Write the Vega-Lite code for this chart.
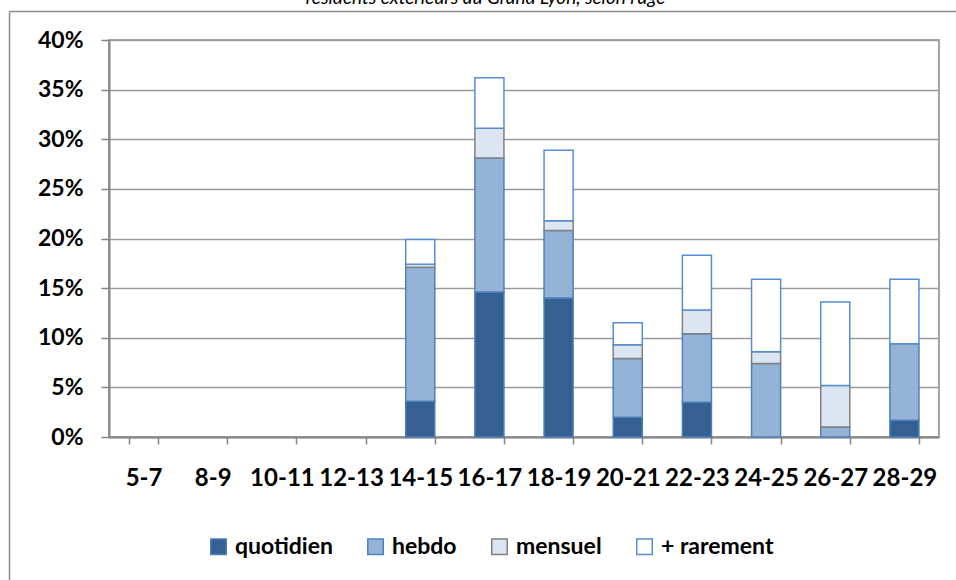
{
  "$schema": "https://vega.github.io/schema/vega-lite/v6.json",
  "width": 830,
  "height": 397,
  "autosize": "none",
  "padding": {"left": 109, "top": 40, "right": 17, "bottom": 143},
  "background": "white",
  "data": {
    "values": [
      {"age": "14-15", "freq": "quotidien", "part": 0.036},
      {"age": "14-15", "freq": "hebdo", "part": 0.135},
      {"age": "14-15", "freq": "mensuel", "part": 0.003},
      {"age": "14-15", "freq": "+ rarement", "part": 0.025},
      {"age": "16-17", "freq": "quotidien", "part": 0.146},
      {"age": "16-17", "freq": "hebdo", "part": 0.135},
      {"age": "16-17", "freq": "mensuel", "part": 0.030},
      {"age": "16-17", "freq": "+ rarement", "part": 0.051},
      {"age": "18-19", "freq": "quotidien", "part": 0.140},
      {"age": "18-19", "freq": "hebdo", "part": 0.068},
      {"age": "18-19", "freq": "mensuel", "part": 0.010},
      {"age": "18-19", "freq": "+ rarement", "part": 0.071},
      {"age": "20-21", "freq": "quotidien", "part": 0.020},
      {"age": "20-21", "freq": "hebdo", "part": 0.059},
      {"age": "20-21", "freq": "mensuel", "part": 0.014},
      {"age": "20-21", "freq": "+ rarement", "part": 0.022},
      {"age": "22-23", "freq": "quotidien", "part": 0.035},
      {"age": "22-23", "freq": "hebdo", "part": 0.069},
      {"age": "22-23", "freq": "mensuel", "part": 0.024},
      {"age": "22-23", "freq": "+ rarement", "part": 0.055},
      {"age": "24-25", "freq": "hebdo", "part": 0.074},
      {"age": "24-25", "freq": "mensuel", "part": 0.012},
      {"age": "24-25", "freq": "+ rarement", "part": 0.073},
      {"age": "26-27", "freq": "hebdo", "part": 0.010},
      {"age": "26-27", "freq": "mensuel", "part": 0.042},
      {"age": "26-27", "freq": "+ rarement", "part": 0.084},
      {"age": "28-29", "freq": "quotidien", "part": 0.017},
      {"age": "28-29", "freq": "hebdo", "part": 0.077},
      {"age": "28-29", "freq": "+ rarement", "part": 0.065}
    ]
  },
  "transform": [
    {"calculate": "indexof(['quotidien', 'hebdo', 'mensuel', '+ rarement'], datum.freq)", "as": "rang"}
  ],
  "layer": [
    {
      "mark": {"type": "bar", "strokeWidth": 1.5},
      "encoding": {
        "x": {
          "field": "age",
          "type": "nominal",
          "scale": {
            "domain": ["5-7", "8-9", "10-11", "12-13", "14-15", "16-17", "18-19", "20-21", "22-23", "24-25", "26-27", "28-29"],
            "paddingInner": 0.58,
            "paddingOuter": 0.29
          },
          "axis": {
            "title": null,
            "labelAngle": 0,
            "labelFont": "Lato",
            "labelFontSize": 24,
            "labelFontWeight": "bold",
            "labelColor": "#000000",
            "tickBand": "extent",
            "tickSize": 7,
            "tickColor": "#868686",
            "tickWidth": 1.5,
            "domainColor": "#868686",
            "domainWidth": 2,
            "labelPadding": 22,
            "grid": false
          }
        },
        "y": {
          "field": "part",
          "type": "quantitative",
          "stack": "zero",
          "scale": {"domain": [0, 0.4], "nice": false},
          "axis": {
            "title": null,
            "format": ".0%",
            "values": [0, 0.05, 0.1, 0.15, 0.2, 0.25, 0.3, 0.35, 0.4],
            "labelFont": "Lato",
            "labelFontSize": 23,
            "labelFontWeight": "bold",
            "labelColor": "#000000",
            "tickSize": 8,
            "tickColor": "#868686",
            "tickWidth": 1.5,
            "domainColor": "#868686",
            "domainWidth": 2,
            "labelPadding": 18,
            "grid": true,
            "gridColor": "#9a9a9a",
            "gridWidth": 1.5
          }
        },
        "order": {"field": "rang", "type": "quantitative", "sort": "ascending"},
        "color": {
          "field": "freq",
          "type": "nominal",
          "scale": {
            "domain": ["quotidien", "hebdo", "mensuel", "+ rarement"],
            "range": ["#376092", "#95B3D7", "#DCE6F2", "#FFFFFF"]
          },
          "legend": {
            "orient": "none",
            "legendX": 98,
            "legendY": 495,
            "direction": "horizontal",
            "title": null,
            "padding": 0,
            "symbolType": "square",
            "symbolSize": 240,
            "symbolStrokeWidth": 1.5,
            "labelFont": "Lato",
            "labelFontSize": 23,
            "labelFontWeight": "bold",
            "labelColor": "#000000",
            "columnPadding": 31,
            "labelOffset": 5,
            "labelLimit": 300
          }
        },
        "stroke": {
          "field": "freq",
          "type": "nominal",
          "scale": {
            "domain": ["quotidien", "hebdo", "mensuel", "+ rarement"],
            "range": ["#4A7EBB", "#4F81BD", "#808080", "#558ED5"]
          },
          "legend": null
        }
      }
    },
    {
      "mark": {"type": "rule", "opacity": 0},
      "encoding": {
        "y": {
          "field": "part",
          "type": "quantitative",
          "scale": {"domain": [0, 1], "range": [560, -29], "nice": false, "zero": false},
          "axis": {
            "orient": "left",
            "offset": 100,
            "title": "résidents extérieurs au Grand Lyon, selon l'âge",
            "titleFont": "Lato",
            "titleFontSize": 19,
            "titleFontStyle": "italic",
            "titleFontWeight": "normal",
            "titleColor": "#000000",
            "titleAngle": 0,
            "titleAlign": "center",
            "titleBaseline": "alphabetic",
            "titleX": 476,
            "titleY": -37,
            "labels": false,
            "ticks": false,
            "grid": false,
            "domain": true,
            "domainColor": "#8c8c8c",
            "domainWidth": 1.5,
            "zindex": 1
          }
        }
      }
    },
    {
      "mark": {"type": "rule", "opacity": 0},
      "encoding": {
        "x": {
          "field": "part",
          "type": "quantitative",
          "scale": {"domain": [0, 1], "range": [-100, 870], "nice": false, "zero": false},
          "axis": {
            "orient": "top",
            "offset": 29,
            "title": null,
            "labels": false,
            "ticks": false,
            "grid": false,
            "domain": true,
            "domainColor": "#8c8c8c",
            "domainWidth": 1.5,
            "zindex": 1
          }
        }
      }
    }
  ],
  "resolve": {
    "scale": {"x": "independent", "y": "independent"},
    "axis": {"x": "independent", "y": "independent"}
  },
  "config": {
    "view": {"stroke": "#868686", "strokeWidth": 1.5}
  }
}
